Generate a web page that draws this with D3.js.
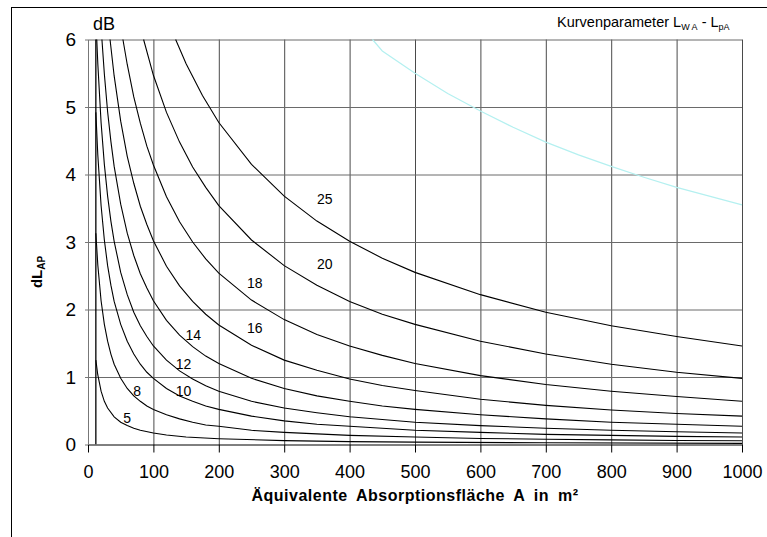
<!DOCTYPE html>
<html>
<head>
<meta charset="utf-8">
<script src="https://cdn.jsdelivr.net/npm/d3@7"></script>
<style>
  html, body { margin: 0; padding: 0; background: #fff; }
  svg { display: block; font-family: "Liberation Sans", Arial, sans-serif; }
</style>
</head>
<body>
<svg id="chart" width="767" height="537"></svg>
<script>
// Equivalent absorption area A (m²) and level increase dL_AP (dB), one pair per curve.
// Curve parameter L_WA - L_pA is the label printed next to each curve.
const area5   = [12, 15, 20, 25, 30, 40, 50, 60, 70, 80, 100, 120, 150, 200, 300, 400, 500, 700, 1000];
const level5  = [1.25, 1.03, 0.79, 0.64, 0.54, 0.41, 0.33, 0.28, 0.24, 0.21, 0.17, 0.14, 0.11, 0.086, 0.057, 0.043, 0.035, 0.025, 0.017];

const area8   = [12, 15, 20, 25, 30, 35, 40, 50, 60, 70, 80, 90, 100, 120, 140, 160, 180, 200, 250, 300, 400, 500, 600, 700, 800, 900, 1000];
const level8  = [3.13, 2.66, 2.13, 1.78, 1.53, 1.34, 1.19, 0.98, 0.83, 0.72, 0.64, 0.57, 0.52, 0.44, 0.38, 0.33, 0.29, 0.27, 0.21, 0.18, 0.135, 0.11, 0.09, 0.078, 0.068, 0.06, 0.055];

const area10  = [12, 15, 20, 25, 30, 35, 40, 50, 60, 70, 80, 90, 100, 120, 140, 160, 180, 200, 250, 300, 350, 400, 500, 600, 700, 800, 900, 1000];
const level10 = [4.92, 4.29, 3.54, 3.03, 2.65, 2.36, 2.12, 1.78, 1.53, 1.34, 1.19, 1.07, 0.98, 0.83, 0.72, 0.64, 0.57, 0.52, 0.42, 0.35, 0.30, 0.27, 0.21, 0.18, 0.15, 0.135, 0.12, 0.11];

const area12  = [13.4, 15, 20, 25, 30, 35, 40, 50, 60, 70, 80, 90, 100, 120, 140, 160, 180, 200, 250, 300, 350, 400, 500, 600, 700, 800, 900, 1000];
const level12 = [6.0, 5.64, 4.77, 4.15, 3.68, 3.31, 3.01, 2.55, 2.22, 1.96, 1.76, 1.60, 1.46, 1.25, 1.09, 0.97, 0.87, 0.79, 0.64, 0.54, 0.47, 0.41, 0.33, 0.28, 0.24, 0.21, 0.19, 0.17];

const area14  = [21.3, 25, 30, 35, 40, 50, 60, 70, 80, 90, 100, 120, 140, 160, 180, 200, 250, 300, 350, 400, 450, 500, 600, 700, 800, 900, 1000];
const level14 = [6.0, 5.49, 4.93, 4.49, 4.12, 3.56, 3.13, 2.80, 2.53, 2.32, 2.13, 1.84, 1.62, 1.45, 1.31, 1.20, 0.98, 0.83, 0.72, 0.64, 0.57, 0.52, 0.44, 0.38, 0.33, 0.30, 0.27];

const area16  = [33.7, 40, 50, 60, 70, 80, 90, 100, 120, 140, 160, 180, 200, 250, 300, 350, 400, 450, 500, 600, 700, 800, 900, 1000];
const level16 = [6.0, 5.46, 4.79, 4.27, 3.87, 3.53, 3.26, 3.02, 2.64, 2.35, 2.12, 1.93, 1.77, 1.47, 1.25, 1.10, 0.97, 0.875, 0.80, 0.67, 0.58, 0.51, 0.46, 0.42];

const area18  = [53.4, 60, 70, 80, 90, 100, 120, 140, 160, 180, 200, 250, 300, 350, 400, 450, 500, 600, 700, 800, 900, 1000];
const level18 = [6.0, 5.63, 5.15, 4.76, 4.42, 4.14, 3.67, 3.30, 3.00, 2.75, 2.54, 2.14, 1.85, 1.63, 1.46, 1.32, 1.20, 1.02, 0.89, 0.79, 0.71, 0.64];

const area20  = [85, 100, 120, 140, 160, 180, 200, 250, 300, 350, 400, 450, 500, 600, 700, 800, 900, 1000];
const level20 = [6.0, 5.47, 4.92, 4.48, 4.11, 3.81, 3.54, 3.03, 2.65, 2.36, 2.12, 1.93, 1.78, 1.53, 1.34, 1.19, 1.07, 0.98];

const area25  = [134, 150, 175, 200, 250, 300, 350, 400, 450, 500, 600, 700, 800, 900, 1000];
const level25 = [6.0, 5.64, 5.17, 4.77, 4.15, 3.68, 3.31, 3.01, 2.76, 2.55, 2.22, 1.96, 1.76, 1.60, 1.46];

// Unlabelled light curve in the upper right
const areaUpper  = [435, 450, 500, 550, 600, 650, 700, 750, 800, 850, 900, 950, 1000];
const levelUpper = [6.0, 5.83, 5.50, 5.20, 4.94, 4.70, 4.48, 4.29, 4.12, 3.96, 3.81, 3.68, 3.55];

// Vertical start line of the curve family
const areaStart  = [12, 12];
const levelStart = [0, 6];

// Curve labels and where they are written (A in m², dL in dB)
const curveLabels = ["5", "8", "10", "12", "14", "16", "18", "20", "25"];
const labelArea   = [60, 75, 146, 146, 161, 255, 255, 362, 362];
const labelLevel  = [0.40, 0.79, 0.79, 1.19, 1.62, 1.73, 2.39, 2.67, 3.64];

// Axis ticks
const xTicks = [0, 100, 200, 300, 400, 500, 600, 700, 800, 900, 1000];
const yTicks = [0, 1, 2, 3, 4, 5, 6];

const blackCurves = [
  [area5, level5], [area8, level8], [area10, level10], [area12, level12],
  [area14, level14], [area16, level16], [area18, level18], [area20, level20],
  [area25, level25]
].map(([a, l]) => a.map((v, i) => [v, l[i]]));

const svg = d3.select("#chart");
const fontStack = "'Liberation Sans', Arial, sans-serif";

// outer chart frame
svg.append("rect")
  .attr("x", 11.5).attr("y", 7.5)
  .attr("width", 900).attr("height", 700)
  .attr("fill", "none").attr("stroke", "#000").attr("stroke-width", 1);

const plotLeft = 88, plotRight = 742, plotTop = 39.5, plotBottom = 444.5;
const x = d3.scaleLinear().domain([0, 1000]).range([plotLeft, plotRight]);
const y = d3.scaleLinear().domain([0, 6]).range([plotBottom, plotTop]);

// gridlines
const grid = svg.append("g");
grid.append("g")
  .attr("transform", `translate(0,${plotBottom})`)
  .call(d3.axisBottom(x).tickValues(xTicks.slice(1)).tickSize(-(plotBottom - plotTop)).tickFormat(""))
  .call(g => g.select(".domain").remove())
  .call(g => g.selectAll("line").attr("stroke", "#4a4a4a"));
grid.append("g")
  .attr("transform", `translate(${plotLeft},0)`)
  .call(d3.axisLeft(y).tickValues(yTicks.slice(1)).tickSize(-(plotRight - plotLeft)).tickFormat(""))
  .call(g => g.select(".domain").remove())
  .call(g => g.selectAll("line").attr("stroke", "#6a6a6a"));

// axes
const xAxis = svg.append("g")
  .attr("transform", `translate(0,${plotBottom})`)
  .call(d3.axisBottom(x).tickValues(xTicks).tickFormat(d3.format("d"))
    .tickSize(8).tickPadding(13).tickSizeOuter(0));
xAxis.select(".domain").attr("stroke", "#000");
xAxis.selectAll("line").attr("stroke", "#000");
xAxis.selectAll("text")
  .attr("font-size", 18).attr("fill", "#000")
  .attr("font-family", fontStack);

const yAxis = svg.append("g")
  .attr("transform", `translate(${plotLeft},0)`)
  .call(d3.axisLeft(y).tickValues(yTicks).tickFormat(d3.format("d"))
    .tickSize(3).tickPadding(9).tickSizeOuter(0));
yAxis.select(".domain").attr("stroke", "#777");
yAxis.selectAll("line").attr("stroke", "#777");
yAxis.selectAll("text")
  .attr("font-size", 19).attr("fill", "#000")
  .attr("font-family", fontStack);

// curves
svg.append("clipPath").attr("id", "plotClip")
  .append("rect").attr("x", plotLeft).attr("y", plotTop - 1)
  .attr("width", plotRight - plotLeft + 1).attr("height", plotBottom - plotTop + 1);

const line = d3.line().x(d => x(d[0])).y(d => y(d[1]));
const plot = svg.append("g").attr("clip-path", "url(#plotClip)");

plot.append("path")
  .datum(areaStart.map((v, i) => [v, levelStart[i]]))
  .attr("d", line).attr("fill", "none").attr("stroke", "#000").attr("stroke-width", 1.3);

plot.selectAll("path.curve")
  .data(blackCurves)
  .join("path")
  .attr("class", "curve")
  .attr("d", line)
  .attr("fill", "none")
  .attr("stroke", "#000")
  .attr("stroke-width", 1.1);

plot.append("path")
  .datum(areaUpper.map((v, i) => [v, levelUpper[i]]))
  .attr("d", line).attr("fill", "none").attr("stroke", "#b4f0f0").attr("stroke-width", 1.2);

// curve labels
svg.append("g").selectAll("text")
  .data(curveLabels)
  .join("text")
  .attr("x", (d, i) => x(labelArea[i]))
  .attr("y", (d, i) => y(labelLevel[i]))
  .attr("text-anchor", "middle")
  .attr("dominant-baseline", "central")
  .attr("font-size", 14)
  .attr("fill", "#000")
  .text(d => d);

// unit above the value axis
svg.append("text")
  .attr("x", 93).attr("y", 30)
  .attr("font-size", 18)
  .text("dB");

// curve parameter note
const note = svg.append("text")
  .attr("x", 557).attr("y", 27)
  .attr("font-size", 14.5);
note.append("tspan").text("Kurvenparameter L");
note.append("tspan").attr("font-size", 9).attr("dy", 3).text("W A");
note.append("tspan").attr("dy", -3).text(" - L");
note.append("tspan").attr("font-size", 9).attr("dy", 3).text("pA");

// axis titles
svg.append("text")
  .attr("x", 415).attr("y", 501)
  .attr("text-anchor", "middle")
  .attr("font-size", 16)
  .attr("font-weight", "bold")
  .attr("letter-spacing", 0.5)
  .attr("word-spacing", 4)
  .text("Äquivalente Absorptionsfläche A in m²");

const yTitle = svg.append("text")
  .attr("transform", "translate(42,272) rotate(-90)")
  .attr("text-anchor", "middle")
  .attr("font-size", 15)
  .attr("font-weight", "bold");
yTitle.append("tspan").text("dL");
yTitle.append("tspan").attr("font-size", 10).attr("dy", 3).text("AP");
</script>
</body>
</html>
